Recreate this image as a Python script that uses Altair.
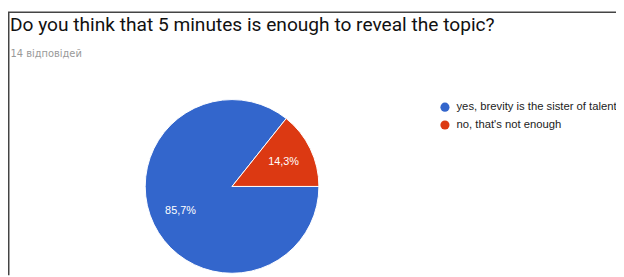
import math
import altair as alt
import pandas as pd

# ---- data ----
answers = ["yes, brevity is the sister of talent", "no, that's not enough"]
counts = [12, 2]
pct_labels = ["85,7%", "14,3%"]
order = [0, 1]
colors = ["#3366CC", "#DC3912"]

title_text = "Do you think that 5 minutes is enough to reveal the topic?"
subtitle_text = "14 відповідей"

df = pd.DataFrame({"answer": answers, "count": counts, "label": pct_labels, "order": order})

W, H = 616, 217
PAD_TOP = 52
CX, CY = 227, 179 - PAD_TOP
R = 88

base = alt.Chart(df).encode(
    theta=alt.Theta("count:Q", stack=True,
                    scale=alt.Scale(range=[math.pi / 2, math.pi / 2 + 2 * math.pi])),
    order=alt.Order("order:Q"),
)

arc = base.mark_arc(radius=R, stroke="white", strokeWidth=1).encode(
    x=alt.value(CX), y=alt.value(CY),
    color=alt.Color(
        "answer:N",
        sort=answers,
        scale=alt.Scale(domain=answers, range=colors),
        legend=alt.Legend(
            title=None, orient="none", legendX=437, legendY=41,
            symbolType="circle", symbolSize=85, symbolStrokeWidth=0,
            labelFont="Liberation Sans", labelFontSize=11.4, labelColor="#222222",
            labelOffset=6, rowPadding=5, labelLimit=300,
        ),
    ),
)

text = base.mark_text(radius=58, font="Liberation Sans", fontSize=11, color="white").encode(
    x=alt.value(CX), y=alt.value(CY), text="label:N"
)

frame_df = pd.DataFrame({"k": [0]})
top_line = alt.Chart(frame_df).mark_rule(color="#444444", strokeWidth=1.5).encode(
    x=alt.value(0), x2=alt.value(W), y=alt.value(-49.5)
)
left_line = alt.Chart(frame_df).mark_rule(color="#444444", strokeWidth=1.5).encode(
    x=alt.value(0.75), y=alt.value(-49.5), y2=alt.value(H)
)

title_df = pd.DataFrame({"t": [title_text]})
title_mark = alt.Chart(title_df).mark_text(
    align="left", baseline="alphabetic", font="Roboto", fontSize=19.4, color="#111111"
).encode(x=alt.value(2), y=alt.value(-30.7), text="t:N")

sub_df = pd.DataFrame({"t": [subtitle_text]})
sub_mark = alt.Chart(sub_df).mark_text(
    align="left", baseline="alphabetic", font="DejaVu Sans", fontSize=10, color="#999999"
).encode(x=alt.value(2.5), y=alt.value(-4.3), text="t:N")

chart = alt.layer(arc, text, top_line, left_line, title_mark, sub_mark).properties(
    width=W, height=H,
    autosize=alt.AutoSizeParams(type="none"),
    padding={"left": 0, "top": PAD_TOP, "right": 0, "bottom": 0},
).configure_view(stroke=None)

chart.save("out.html", embed_options={"renderer": "svg", "actions": False})
